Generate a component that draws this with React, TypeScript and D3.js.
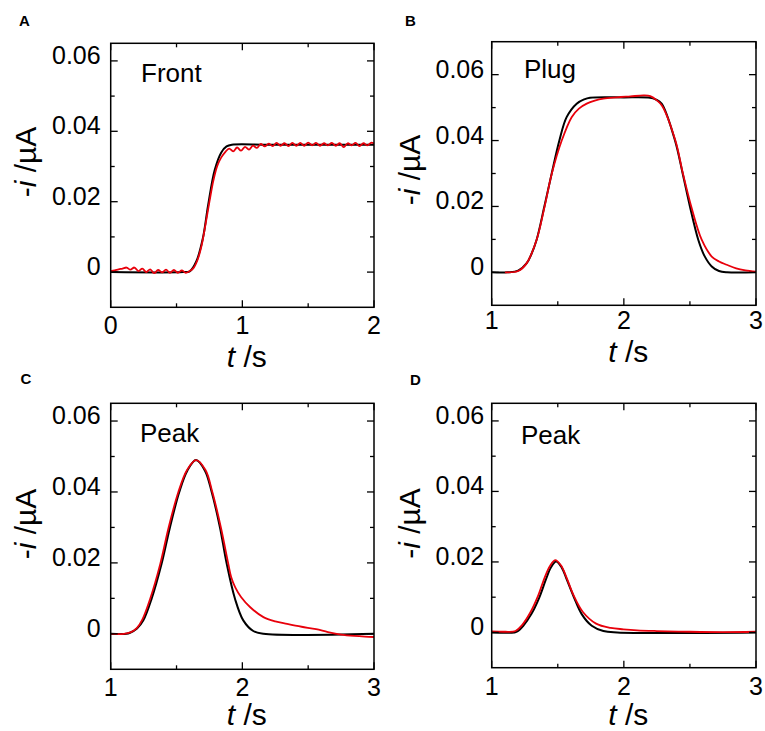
import React from 'react';
import * as d3 from 'd3';

// panel text
const panelLetters: string[] = ['A', 'B', 'C', 'D'];
const panelTitles: string[] = ['Front', 'Plug', 'Peak', 'Peak'];

// axis ranges and ticks
const xDomains: [number, number][] = [[0, 2], [1, 3], [1, 3], [1, 3]];
const yDomains: [number, number][] = [[-0.01, 0.065], [-0.01, 0.07], [-0.01, 0.065], [-0.01, 0.065]];
const xMajorTicks: number[][] = [[0, 1, 2], [1, 2, 3], [1, 2, 3], [1, 2, 3]];
const xMinorTicks: number[][] = [[0.5, 1.5], [1.5, 2.5], [1.5, 2.5], [1.5, 2.5]];
const yMajorTicks: number[] = [0, 0.02, 0.04, 0.06];
const yTickLabels: string[] = ['0', '0.02', '0.04', '0.06'];
const yMinorTicks: number[] = [0.01, 0.03, 0.05];

// A: front (simulation = black, experiment = red)
const frontFit: [number, number][] = [
  [0, 0], [0.55, 0], [0.6, 0.0002], [0.65, 0.003], [0.7, 0.0096], [0.74, 0.019],
  [0.79, 0.029], [0.84, 0.034], [0.88, 0.0357], [0.92, 0.0362], [1.2, 0.0362], [2, 0.0362],
];
const frontExp: [number, number][] = [
  [0, 0.0003], [0.03, 0.0005], [0.06, 0.0008], [0.09, 0.001], [0.12, 0.0013], [0.15, 0.0007],
  [0.18, 0.0013], [0.21, 0.0003], [0.24, 0.001], [0.27, 0], [0.3, 0.0008], [0.33, -0.0003],
  [0.36, 0.0006], [0.39, -0.0001], [0.42, 0.0007], [0.45, -0.0002], [0.48, 0.0006], [0.51, -0.0002],
  [0.54, 0.0005], [0.57, -0.0002], [0.6, 0.0003], [0.63, 0.0012], [0.66, 0.0035], [0.69, 0.0075],
  [0.72, 0.0135], [0.75, 0.02], [0.78, 0.026], [0.81, 0.0302], [0.84, 0.0326], [0.87, 0.0341],
  [0.9, 0.0351], [0.93, 0.0343], [0.96, 0.0354], [0.99, 0.0345], [1.02, 0.0356], [1.05, 0.0348],
  [1.08, 0.0359], [1.11, 0.0353], [1.14, 0.0364], [1.17, 0.0357], [1.2, 0.0365], [1.23, 0.0358],
  [1.26, 0.0367], [1.29, 0.0359], [1.32, 0.0366], [1.35, 0.0358], [1.38, 0.0367], [1.41, 0.0359],
  [1.44, 0.0367], [1.47, 0.0359], [1.5, 0.0368], [1.53, 0.036], [1.56, 0.0367], [1.59, 0.0359],
  [1.62, 0.0366], [1.65, 0.036], [1.68, 0.0367], [1.71, 0.0359], [1.74, 0.0366], [1.77, 0.0355],
  [1.8, 0.0366], [1.83, 0.036], [1.86, 0.0367], [1.89, 0.0358], [1.92, 0.0366], [1.95, 0.036],
  [1.98, 0.0368], [2, 0.0365],
];

// B: plug
const plugFit: [number, number][] = [
  [1, 0], [1.12, 0], [1.2, 0.0005], [1.265, 0.0028], [1.3, 0.0055], [1.34, 0.0099],
  [1.398, 0.0199], [1.454, 0.03], [1.512, 0.04], [1.567, 0.0471], [1.643, 0.0512], [1.7, 0.0525],
  [1.744, 0.053], [2, 0.0531], [2.198, 0.053], [2.24, 0.0525], [2.286, 0.0512], [2.387, 0.04],
  [2.445, 0.03], [2.5, 0.02], [2.563, 0.0099], [2.61, 0.005], [2.665, 0.0018], [2.72, 0.0004],
  [2.78, 0], [3, 0],
];
const plugExp: [number, number][] = [
  [1.1, 0], [1.2, 0.0004], [1.265, 0.0028], [1.34, 0.0099], [1.4, 0.0199], [1.455, 0.03],
  [1.53, 0.04], [1.605, 0.0471], [1.66, 0.0497], [1.719, 0.0512], [1.78, 0.0521], [1.845, 0.0527],
  [1.95, 0.0531], [2.05, 0.0534], [2.15, 0.0537], [2.2, 0.0535], [2.25, 0.0522], [2.29, 0.0505],
  [2.39, 0.04], [2.447, 0.03], [2.51, 0.02], [2.589, 0.0099], [2.665, 0.0048], [2.72, 0.0033],
  [2.778, 0.0023], [2.85, 0.0012], [2.92, 0.0006], [3, 0.0002],
];

// C: peak
const peakFit: [number, number][] = [
  [1, 0], [1.12, 0], [1.147, 0.0003], [1.2, 0.0015], [1.248, 0.0038], [1.311, 0.0099],
  [1.387, 0.0198], [1.45, 0.03], [1.521, 0.04], [1.582, 0.046], [1.648, 0.049], [1.716, 0.046],
  [1.767, 0.04], [1.83, 0.03], [1.881, 0.0198], [1.944, 0.0099], [2.007, 0.0038], [2.083, 0.0008],
  [2.16, 0], [3, 0],
];
const peakExp: [number, number][] = [
  [1, 0], [1.1, 0], [1.15, 0.0004], [1.2, 0.0017], [1.24, 0.004], [1.3, 0.0099],
  [1.377, 0.0198], [1.44, 0.03], [1.514, 0.04], [1.58, 0.0462], [1.648, 0.049], [1.72, 0.0462],
  [1.772, 0.04], [1.837, 0.03], [1.893, 0.0198], [1.915, 0.016], [1.946, 0.0131], [1.99, 0.0104],
  [2.06, 0.0075], [2.16, 0.0047], [2.25, 0.0035], [2.34, 0.0028], [2.45, 0.002], [2.56, 0.0013],
  [2.65, 0.0005], [2.75, -0.0002], [2.85, -0.0006], [2.93, -0.0008], [3, -0.0009],
];

// D: small peak
const smallPeakFit: [number, number][] = [
  [1, 0], [1.17, 0], [1.19, 0.0002], [1.239, 0.0019], [1.3, 0.0052], [1.36, 0.0099],
  [1.411, 0.0151], [1.448, 0.0184], [1.487, 0.0201], [1.53, 0.0184], [1.567, 0.0151], [1.623, 0.0099],
  [1.681, 0.0052], [1.757, 0.0019], [1.845, 0.0004], [1.95, 0], [3, 0],
];
const smallPeakExp: [number, number][] = [
  [1, 0.0003], [1.1, 0.0002], [1.18, 0.0004], [1.23, 0.0021], [1.29, 0.0055], [1.35, 0.0103],
  [1.4, 0.0155], [1.44, 0.0188], [1.48, 0.0205], [1.525, 0.019], [1.565, 0.0157], [1.62, 0.0105],
  [1.69, 0.0058], [1.79, 0.0025], [1.9, 0.0013], [1.996, 0.0009], [2.1, 0.0006], [2.25, 0.0004],
  [2.5, 0.0002], [2.75, 0.0001], [3, 0.0002],
];

const fitSeries = [frontFit, plugFit, peakFit, smallPeakFit];
const expSeries = [frontExp, plugExp, peakExp, smallPeakExp];

// where each panel sits on the page
const frames = [
  { left: 110.7, right: 374, top: 43.3, bottom: 307.3, letterX: 19, letterY: 26, titleX: 141, titleY: 82, tickGap: 10, xLabelDy: 26.5, xTitleY: 367, yTitleX: 36, yTitleY: 162 },
  { left: 491.7, right: 756, top: 41.7, bottom: 305.3, letterX: 405, letterY: 26, titleX: 524, titleY: 78, tickGap: 7.5, xLabelDy: 24, xTitleY: 361.5, yTitleX: 420, yTitleY: 170 },
  { left: 110.7, right: 374, top: 403.3, bottom: 669.3, letterX: 20.5, letterY: 384, titleX: 140, titleY: 441.5, tickGap: 10, xLabelDy: 26.5, xTitleY: 725, yTitleX: 36, yTitleY: 524 },
  { left: 491.7, right: 756, top: 403.3, bottom: 667.7, letterX: 410, letterY: 385, titleX: 521, titleY: 444, tickGap: 7.5, xLabelDy: 27, xTitleY: 725, yTitleX: 420, yTitleY: 523.5 },
];

const FONT = '"Liberation Sans", Arial, Helvetica, sans-serif';
const MAJOR = 7;
const MINOR = 4;

const Panel: React.FC<{ idx: number }> = ({ idx }) => {
  const f = frames[idx];
  const x = d3.scaleLinear().domain(xDomains[idx]).range([f.left, f.right]);
  const y = d3.scaleLinear().domain(yDomains[idx]).range([f.bottom, f.top]);
  const line = d3
    .line<[number, number]>()
    .x((d) => x(d[0]))
    .y((d) => y(d[1]))
    .curve(d3.curveCatmullRom.alpha(0.5));
  const clipId = `clip-${idx}`;

  const xTicks = [
    ...xMajorTicks[idx].map((v) => ({ v, len: MAJOR })),
    ...xMinorTicks[idx].map((v) => ({ v, len: MINOR })),
  ];
  const yTicks = [
    ...yMajorTicks.map((v) => ({ v, len: MAJOR })),
    ...yMinorTicks.map((v) => ({ v, len: MINOR })),
  ];

  return (
    <g>
      <defs>
        <clipPath id={clipId}>
          <rect x={f.left} y={f.top} width={f.right - f.left} height={f.bottom - f.top} />
        </clipPath>
      </defs>

      <g clipPath={`url(#${clipId})`} fill="none" strokeLinejoin="round">
        <path d={line(fitSeries[idx]) || ''} stroke="#000" strokeWidth={2} />
        <path d={line(expSeries[idx]) || ''} stroke="#e8000b" strokeWidth={1.8} />
      </g>

      <rect x={f.left} y={f.top} width={f.right - f.left} height={f.bottom - f.top}
        fill="none" stroke="#000" strokeWidth={1.5} />

      {/* inward ticks on all four sides */}
      <g stroke="#000" strokeWidth={1.3}>
        {xTicks.map((t, i) => (
          <g key={`x${i}`}>
            <line x1={x(t.v)} x2={x(t.v)} y1={f.bottom} y2={f.bottom - t.len} />
            <line x1={x(t.v)} x2={x(t.v)} y1={f.top} y2={f.top + t.len} />
          </g>
        ))}
        {yTicks.map((t, i) => (
          <g key={`y${i}`}>
            <line x1={f.left} x2={f.left + t.len} y1={y(t.v)} y2={y(t.v)} />
            <line x1={f.right} x2={f.right - t.len} y1={y(t.v)} y2={y(t.v)} />
          </g>
        ))}
      </g>

      <g fontFamily={FONT} fontSize={25} fill="#000">
        {xMajorTicks[idx].map((v) => (
          <text key={v} x={x(v)} y={f.bottom + f.xLabelDy} textAnchor="middle">{v}</text>
        ))}
        {yMajorTicks.map((v, i) => (
          <text key={v} x={f.left - f.tickGap} y={y(v) + 3} textAnchor="end">{yTickLabels[i]}</text>
        ))}
      </g>

      <text x={(f.left + f.right) / 2 + 4.5} y={f.xTitleY} textAnchor="middle"
        fontFamily={FONT} fontSize={30}>
        <tspan fontStyle="italic">t</tspan> /s
      </text>
      <text transform={`translate(${f.yTitleX},${f.yTitleY}) rotate(-90)`} textAnchor="middle"
        fontFamily={FONT} fontSize={30}>
        -<tspan fontStyle="italic">i</tspan> /µA
      </text>

      <text x={f.titleX} y={f.titleY} fontFamily={FONT} fontSize={26}>{panelTitles[idx]}</text>
      <text x={f.letterX} y={f.letterY} fontFamily={FONT} fontSize={15} fontWeight="bold">
        {panelLetters[idx]}
      </text>
    </g>
  );
};

const App: React.FC = () => (
  <div style={{ position: 'absolute', left: 0, top: 0 }}>
    <svg width={765} height={731} style={{ display: 'block', background: '#fff' }}>
      {panelLetters.map((_, i) => (
        <Panel key={i} idx={i} />
      ))}
    </svg>
  </div>
);

export default App;
